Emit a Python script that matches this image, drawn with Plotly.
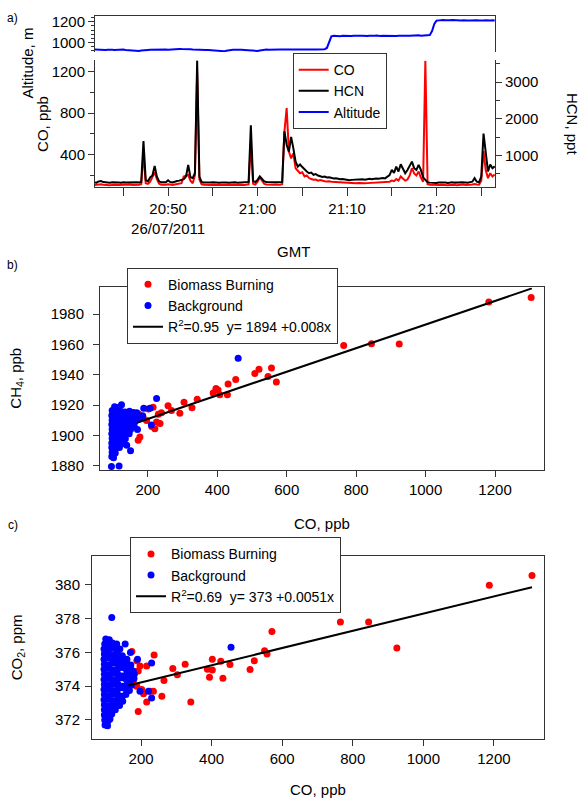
import pandas as pd
import plotly.graph_objects as go

# ---------------- panel a: 15 s time series ----------------
t_start = "2011-07-26 20:41:45"

co_ts = [108, 112, 110, 115, 111, 108, 110, 106, 109, 112,
         110, 107, 109, 111, 108, 110, 112, 109, 108, 110,
         111, 115, 412, 125, 118, 140, 180, 231, 165, 120,
         110, 108, 111, 115, 110, 108, 112, 115, 120, 125,
         190, 200, 206, 150, 125, 200, 1193, 160, 115, 110,
         108, 105, 109, 111, 108, 110, 107, 109, 112, 110,
         108, 111, 109, 110, 108, 112, 110, 109, 111, 115,
         518, 120, 112, 140, 180, 150, 118, 112, 110, 108,
         110, 112, 109, 111, 115, 620, 849, 429, 365, 412,
         269, 240, 221, 230, 190, 200, 175, 165, 158, 160,
         150, 155, 148, 145, 142, 145, 140, 138, 142, 136,
         135, 132, 130, 128, 126, 127, 125, 124, 126, 123,
         125, 124, 126, 128, 127, 130, 132, 131, 135, 138,
         138, 142, 140, 150, 145, 165, 150, 190, 170, 150,
         160, 200, 270, 220, 200, 237, 180, 140, 1305, 116,
         110, 108, 112, 106, 109, 111, 107, 110, 105, 108,
         111, 109, 106, 110, 108, 112, 109, 107, 110, 113,
         118, 112, 110, 150, 435, 250, 174, 221, 190, 210]

hcn_ts = [262, 255, 290, 300, 270, 258, 265, 250, 262, 268,
          255, 260, 252, 266, 258, 262, 270, 255, 260, 264,
          258, 270, 1390, 330, 290, 400, 450, 713, 420, 290,
          262, 255, 265, 320, 268, 262, 290, 300, 310, 330,
          350, 420, 740, 400, 380, 520, 3600, 420, 270, 260,
          255, 245, 258, 262, 255, 260, 250, 258, 265, 255,
          252, 260, 258, 262, 255, 260, 258, 252, 262, 275,
          1824, 300, 270, 330, 423, 360, 290, 270, 262, 258,
          265, 262, 258, 260, 270, 1661, 1290, 1100, 1507, 1190,
          830, 694, 750, 680, 604, 560, 512, 530, 470, 490,
          450, 430, 410, 420, 395, 400, 380, 370, 375, 360,
          350, 355, 340, 335, 320, 330, 335, 325, 330, 340,
          345, 335, 350, 360, 345, 365, 370, 360, 375, 380,
          370, 420, 460, 604, 520, 694, 560, 756, 620, 512,
          600, 700, 829, 650, 600, 740, 604, 400, 330, 262,
          255, 250, 262, 245, 258, 262, 250, 255, 248, 260,
          262, 255, 250, 258, 262, 270, 258, 252, 265, 280,
          377, 280, 265, 420, 1596, 1000, 560, 750, 650, 700]

alt_ts = [930, 928, 926, 929, 927, 925, 928, 930, 927, 926,
          928, 925, 927, 929, 926, 924, 922, 918, 914, 910,
          915, 920, 924, 927, 926, 928, 929, 927, 926, 928,
          927, 929, 930, 928, 931, 933, 932, 935, 936, 934,
          935, 937, 934, 933, 931, 929, 927, 928, 926, 927,
          925, 926, 924, 921, 918, 914, 910, 907, 912, 918,
          923, 926, 928, 927, 929, 930, 928, 926, 924, 920,
          916, 913, 912, 916, 921, 925, 927, 929, 928, 930,
          928, 927, 929, 931, 930, 928, 927, 929, 930, 928,
          927, 929, 931, 930, 928, 929, 931, 930, 929, 931,
          930, 932, 931, 933, 945, 1010, 1058, 1063, 1061, 1063,
          1060, 1064, 1062, 1059, 1063, 1061, 1064, 1062, 1060, 1063,
          1065, 1062, 1061, 1064, 1062, 1063, 1066, 1063, 1062, 1065,
          1064, 1061, 1063, 1066, 1064, 1062, 1065, 1063, 1064, 1066,
          1063, 1065, 1067, 1064, 1066, 1068, 1065, 1067, 1069, 1068,
          1072, 1110, 1180, 1212, 1216, 1214, 1217, 1215, 1213, 1216,
          1218, 1215, 1214, 1216, 1213, 1215, 1217, 1214, 1212, 1215,
          1213, 1216, 1214, 1211, 1213, 1215, 1212, 1214, 1216, 1213]

times = pd.date_range(t_start, periods=len(co_ts), freq="15s")

# ---------------- panel b: CH4 vs CO ----------------
bb_co_b = [172, 177, 174, 186, 196, 201, 211, 215, 220, 225,
           230, 235, 239, 258, 268, 292, 304, 327, 342, 388,
           396, 402, 407, 429, 431, 453, 508, 520, 546, 556,
           570, 764, 844, 924, 1182, 1304]
bb_ch4_b = [1897, 1899, 1914, 1912, 1910, 1917.6, 1906, 1918.7, 1904.5, 1909,
            1914, 1908, 1915, 1919.7, 1916.5, 1914.8, 1922, 1918.4, 1924, 1928,
            1931, 1930, 1927, 1927, 1934, 1937, 1941, 1943.7, 1939, 1944.5,
            1935.4, 1959.3, 1960.6, 1960.4, 1988, 1991]

bg_co_b = [97, 108, 121, 134, 147, 158,
           96, 109, 122, 136, 149, 162,
           97, 110, 124, 137, 150, 163,
           96, 108, 121, 135, 148, 160,
           97, 110, 123, 137, 150,
           96, 108, 121, 134, 146,
           97, 109, 122, 135,
           96, 108, 120, 130,
           96, 107, 118,
           97, 106,
           96, 101,
           95, 117, 124, 225, 206, 188, 210, 460, 139, 170, 176, 185, 104, 114, 150, 168]
bg_ch4_b = [1916.5, 1915.8, 1916.2, 1915.5, 1916, 1915.2,
            1913.2, 1912.6, 1913.4, 1912.8, 1913.1, 1912.5,
            1910.1, 1909.6, 1910.4, 1909.8, 1910.2, 1909.5,
            1907.3, 1906.8, 1907.1, 1906.5, 1907.4, 1906.9,
            1904.2, 1903.7, 1904.4, 1903.9, 1904.1,
            1901.3, 1900.8, 1901.1, 1900.6, 1901.2,
            1898.2, 1897.7, 1898.4, 1897.9,
            1895.1, 1894.7, 1895.3, 1894.8,
            1892.2, 1891.7, 1892.1,
            1889.1, 1888.6,
            1886.2, 1885.4,
            1879.6, 1880, 1920.4, 1924.5, 1918, 1918, 1907, 1951, 1893.7, 1904, 1911, 1913, 1919, 1918.5, 1890, 1915]

fit_co_b = [168, 1306]
fit_ch4_b = [1908.5, 1997]

# ---------------- panel c: CO2 vs CO ----------------
bb_co_c = [174, 188, 197, 192, 178, 188, 202, 207, 192, 216,
           216, 237, 226, 235, 259, 265, 290, 303, 325, 341,
           388, 394, 402, 402, 426, 432, 452, 509, 521, 550,
           557, 571, 765, 845, 925, 1187, 1308]
bb_co2_c = [376.06, 375.5, 375.2, 374.9, 374.3, 374.0, 373.8, 373.55, 372.5, 373.07,
            375.2, 375.85, 373.7, 373.7, 373.4, 374.33, 375.05, 374.67, 375.3, 373.06,
            375.0, 374.53, 375.6, 374.96, 375.47, 374.47, 375.28, 374.98, 375.51, 376.1,
            375.9, 377.23, 377.8, 377.8, 376.26, 379.98, 380.55]

bg_co_c = [100, 110,
           97, 108, 119, 126,
           95, 107, 120, 132, 140,
           96, 108, 121, 134, 147,
           95, 107, 120, 133, 146, 160,
           96, 109, 122, 135, 148, 160, 171,
           95, 107, 120, 133, 146, 159, 170, 178,
           96, 108, 121, 134, 147, 160, 172, 181,
           95, 107, 120, 133, 146, 158, 170, 180,
           96, 109, 122, 135, 148, 161, 173,
           95, 107, 120, 133, 146, 158, 167,
           96, 108, 121, 134, 147, 157,
           95, 107, 120, 133, 148,
           96, 108, 121, 131, 139,
           96, 107, 118, 127,
           96, 106, 117,
           97, 107, 112,
           98, 105,
           117, 131, 230, 197, 221, 230, 455, 155, 170, 190]
bg_co2_c = [376.8, 376.75,
            376.5, 376.45, 376.55, 376.4,
            376.2, 376.15, 376.25, 376.1, 376.2,
            375.9, 375.95, 375.85, 375.9, 375.8,
            375.6, 375.65, 375.55, 375.6, 375.5, 375.6,
            375.3, 375.25, 375.35, 375.3, 375.2, 375.3, 375.25,
            375.0, 375.05, 374.95, 375.0, 375.1, 374.95, 375.0, 374.9,
            374.7, 374.65, 374.75, 374.7, 374.6, 374.7, 374.65, 374.7,
            374.4, 374.45, 374.35, 374.4, 374.5, 374.4, 374.35, 374.45,
            374.1, 374.05, 374.15, 374.1, 374.0, 374.1, 374.05,
            373.8, 373.85, 373.75, 373.8, 373.9, 373.8, 373.75,
            373.5, 373.45, 373.55, 373.5, 373.4, 373.5,
            373.2, 373.25, 373.15, 373.2, 373.1,
            372.9, 372.85, 372.95, 372.9, 372.85,
            372.6, 372.55, 372.65, 372.6,
            372.3, 372.25, 372.35,
            372.0, 371.95, 372.05,
            371.7, 371.65,
            378.06, 376.5, 375.37, 373.7, 373.7, 373.3, 376.3, 376.5, 376.0, 375.6]

fit_co_c = [164, 1308]
fit_co2_c = [374.04, 379.86]

W, H = 580, 802
FONT = "Liberation Sans, Arial, sans-serif"
AX = "#333333"


def px(x):
    return x / W


def py(y):
    return 1 - y / H


fig = go.Figure()

# panel a traces
fig.add_trace(go.Scatter(x=times, y=hcn_ts, mode="lines", name="HCN", legendrank=2,
                         line=dict(color="black", width=2), xaxis="x", yaxis="y2", legend="legend"))
fig.add_trace(go.Scatter(x=times, y=co_ts, mode="lines", name="CO", legendrank=1,
                         line=dict(color="#ff0000", width=2), xaxis="x", yaxis="y", legend="legend"))
fig.add_trace(go.Scatter(x=times, y=alt_ts, mode="lines", name="Altitude", legendrank=3,
                         line=dict(color="#0000ff", width=2), xaxis="x2", yaxis="y3", legend="legend"))

# panel b
fig.add_trace(go.Scatter(x=bb_co_b, y=bb_ch4_b, mode="markers", name="Biomass Burning",
                         marker=dict(color="#ff0000", size=7), xaxis="x3", yaxis="y4", legend="legend2"))
fig.add_trace(go.Scatter(x=bg_co_b, y=bg_ch4_b, mode="markers", name="Background",
                         marker=dict(color="#0000ff", size=7), xaxis="x3", yaxis="y4", legend="legend2"))
fig.add_trace(go.Scatter(x=fit_co_b, y=fit_ch4_b, mode="lines",
                         name="R<sup>2</sup>=0.95\u00a0 y= 1894 +0.008x",
                         line=dict(color="black", width=2), xaxis="x3", yaxis="y4", legend="legend2"))

# panel c
fig.add_trace(go.Scatter(x=bb_co_c, y=bb_co2_c, mode="markers", name="Biomass Burning",
                         marker=dict(color="#ff0000", size=7), xaxis="x4", yaxis="y5", legend="legend3"))
fig.add_trace(go.Scatter(x=bg_co_c, y=bg_co2_c, mode="markers", name="Background",
                         marker=dict(color="#0000ff", size=7), xaxis="x4", yaxis="y5", legend="legend3"))
fig.add_trace(go.Scatter(x=fit_co_c, y=fit_co2_c, mode="lines",
                         name="R<sup>2</sup>=0.69\u00a0 y= 373 +0.0051x",
                         line=dict(color="black", width=2), xaxis="x4", yaxis="y5", legend="legend3"))

axis_common = dict(showline=True, linecolor=AX, linewidth=1, ticks="outside", tickcolor=AX,
                   tickwidth=1, ticklen=6, showgrid=False, zeroline=False,
                   tickfont=dict(size=15, color="black"))

dom_a_x = [px(95), px(495)]
leg_style = dict(xanchor="left", yanchor="top", bgcolor="white", bordercolor=AX,
                 borderwidth=1, font=dict(size=14), tracegroupgap=0)

fig.update_layout(
    width=W, height=H, margin=dict(l=0, r=0, t=0, b=0),
    paper_bgcolor="white", plot_bgcolor="white",
    font=dict(family=FONT, size=15, color="black"),
    xaxis=dict(axis_common, domain=dom_a_x, anchor="y", type="date",
               range=["2011-07-26 20:41:50", "2011-07-26 21:26:32"],
               tickvals=["2011-07-26 20:50", "2011-07-26 21:00", "2011-07-26 21:10", "2011-07-26 21:20"],
               ticktext=["20:50<br>26/07/2011", "21:00", "21:10", "21:20"], ticklen=8,
               minor=dict(dtick=300000, ticklen=8, tickcolor=AX, ticks="outside")),
    yaxis=dict(axis_common, domain=[py(186), py(58)], anchor="x", range=[85, 1308],
               tickvals=[400, 800, 1200], minor=dict(dtick=200, ticklen=4, tickcolor=AX, ticks="outside")),
    yaxis2=dict(axis_common, overlaying="y", side="right", anchor="x", range=[125, 3594],
                tickvals=[1000, 2000, 3000], minor=dict(dtick=500, ticklen=4, tickcolor=AX, ticks="outside")),
    xaxis2=dict(domain=dom_a_x, anchor="y3", side="top", matches="x", showline=True, linecolor=AX,
                showticklabels=False, ticks="", showgrid=False, zeroline=False),
    yaxis3=dict(axis_common, domain=[py(49.7), py(13)], anchor="x2", range=[903, 1258], mirror=True,
                tickvals=[1000, 1200], minor=dict(dtick=40, ticklen=3, tickcolor=AX, ticks="outside")),
    xaxis3=dict(axis_common, domain=[px(100), px(544)], anchor="y4", range=[62, 1341],
                tick0=0, dtick=200, mirror=True),
    yaxis4=dict(axis_common, domain=[py(471), py(287)], anchor="x3", range=[1877.4, 1997.6],
                tick0=0, dtick=20, mirror=True, ticklabelstandoff=6),
    xaxis4=dict(axis_common, domain=[px(92), px(544)], anchor="y5", range=[61, 1342],
                tick0=0, dtick=200, mirror=True),
    yaxis5=dict(axis_common, domain=[py(742), py(558)], anchor="x4", range=[370.9, 381.7],
                tick0=0, dtick=2, mirror=True, ticklabelstandoff=2),
    showlegend=True,
    legend=dict(leg_style, x=px(292.7), y=py(50.5)),
    legend2=dict(leg_style, x=px(127), y=py(267)),
    legend3=dict(leg_style, x=px(130), y=py(539)),
)

annotations = [
    dict(text="a)", x=px(12), y=py(15), font=dict(size=12)),
    dict(text="b)", x=px(12), y=py(264), font=dict(size=12)),
    dict(text="c)", x=px(13), y=py(527), font=dict(size=12)),
    dict(text="Altitude, m", x=px(27), y=py(61), textangle=-90, font=dict(size=15)),
    dict(text="CO, ppb", x=px(43), y=py(122), textangle=-90, font=dict(size=15)),
    dict(text="HCN, ppt", x=px(572), y=py(122), textangle=90, font=dict(size=15)),
    dict(text="GMT", x=px(293), y=py(251), font=dict(size=15)),
    dict(text="CH<sub>4</sub>, ppb", x=px(17), y=py(379), textangle=-90, font=dict(size=15)),
    dict(text="CO, ppb", x=px(322), y=py(525), font=dict(size=15)),
    dict(text="CO<sub>2</sub>, ppm", x=px(17), y=py(650), textangle=-90, font=dict(size=15)),
    dict(text="CO, ppb", x=px(318), y=py(793), font=dict(size=15)),
]
for a in annotations:
    fig.add_annotation(xref="paper", yref="paper", showarrow=False, xanchor="center", yanchor="middle", **a)

# the page body has a default 8 px margin; remove it so the figure fills the window
fig.write_html("out.html", config={"displayModeBar": False},
               post_script="document.body.style.margin = '0';")
